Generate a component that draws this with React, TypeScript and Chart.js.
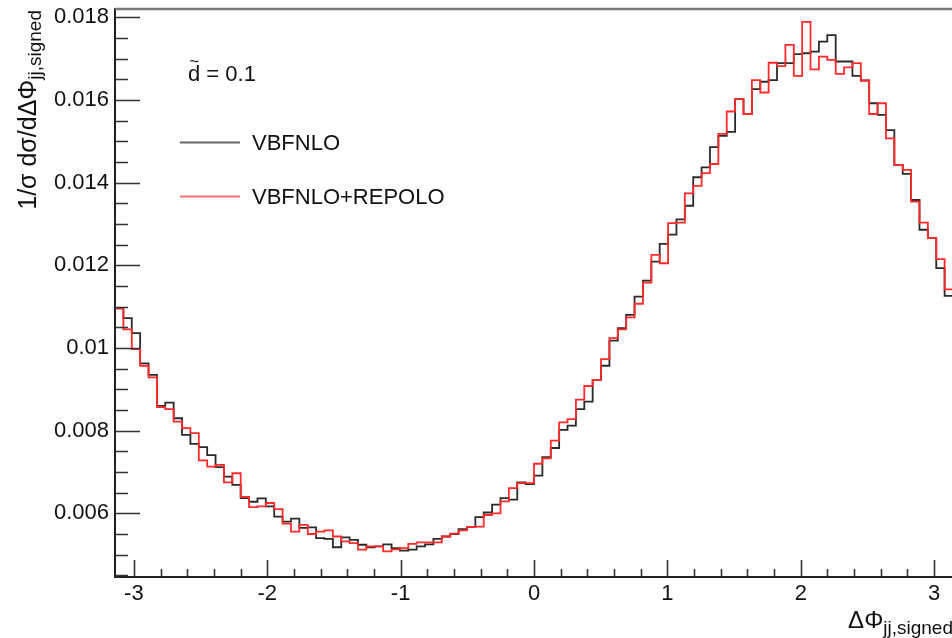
import React, { useEffect, useRef } from "react";
import { Chart, registerables } from "chart.js";

Chart.register(...registerables);

// ---- data (100 bins over [-pi, pi]) ----
const X_MIN = -Math.PI;
const X_MAX = Math.PI;
const Y_MIN = 0.00446;
const Y_MAX = 0.0182;

const vbfnlo = [
  0.01096, 0.01072, 0.01036, 0.00963, 0.00935, 0.0086, 0.00868, 0.0083, 0.0079, 0.00768,
  0.0076, 0.00741, 0.00712, 0.00689, 0.00669, 0.00637, 0.00628, 0.00636, 0.00617, 0.00592,
  0.0058, 0.00587, 0.00565, 0.00566, 0.0054, 0.00538, 0.00518, 0.00542, 0.00536, 0.00524,
  0.00518, 0.0052, 0.00525, 0.00516, 0.0051, 0.00512, 0.0052, 0.00525, 0.00538, 0.00544,
  0.0055, 0.00562, 0.00567, 0.00591, 0.00602, 0.00621, 0.00637, 0.00633, 0.00675, 0.00671,
  0.00691, 0.00736, 0.00758, 0.00802, 0.00812, 0.00852, 0.0087, 0.00923, 0.00957, 0.01018,
  0.01048, 0.0108, 0.01124, 0.01163, 0.01209, 0.01252, 0.01274, 0.01311, 0.01344, 0.01413,
  0.01437, 0.01486, 0.01513, 0.01523, 0.01602, 0.01566, 0.01626, 0.01644, 0.01648, 0.01689,
  0.01689, 0.01711, 0.01713, 0.01717, 0.01741, 0.01757, 0.01693, 0.01693, 0.01658, 0.01647,
  0.01592, 0.01564, 0.01527, 0.01443, 0.01421, 0.01358, 0.01286, 0.01266, 0.01193, 0.01126,
];

const repolo = [
  0.01096, 0.01045, 0.00997, 0.00957, 0.00929, 0.00857, 0.00852, 0.00822, 0.00806, 0.00794,
  0.00728, 0.00713, 0.00717, 0.00675, 0.00697, 0.0064, 0.00615, 0.00617, 0.00625, 0.0061,
  0.00575, 0.00556, 0.00572, 0.0055, 0.00556, 0.00559, 0.00544, 0.00532, 0.00528, 0.00512,
  0.0052, 0.0052, 0.00508, 0.00513, 0.00516, 0.00526, 0.0053, 0.0053, 0.0053, 0.00544,
  0.00551, 0.00559, 0.00567, 0.00568, 0.00596, 0.006, 0.00629, 0.00661, 0.00673, 0.00673,
  0.0072, 0.00733, 0.00776, 0.0082, 0.00828, 0.00875, 0.00908, 0.00923, 0.00973, 0.01024,
  0.01045, 0.01074, 0.01107, 0.01158, 0.01225, 0.01205, 0.01302, 0.01303, 0.01374, 0.01392,
  0.01423, 0.01445, 0.01518, 0.01572, 0.01602, 0.01566, 0.01648, 0.01618, 0.0169, 0.01682,
  0.01733, 0.01658, 0.01789, 0.01674, 0.01705, 0.01697, 0.01663, 0.01679, 0.01689, 0.01647,
  0.01566, 0.01592, 0.01507, 0.01443, 0.01431, 0.01354, 0.01303, 0.01266, 0.01215, 0.01142,
];

const seriesLabels = ["VBFNLO", "VBFNLO+REPOLO"];
const seriesColors = ["#2a2a2a", "#ff2a2a"];
const legendColors = ["#666666", "#ff7070"];

const xTicks = [-3, -2, -1, 0, 1, 2, 3];
const xTickLabels = ["-3", "-2", "-1", "0", "1", "2", "3"];
const yTicks = [0.006, 0.008, 0.01, 0.012, 0.014, 0.016, 0.018];
const yTickLabels = ["0.006", "0.008", "0.01", "0.012", "0.014", "0.016", "0.018"];
const X_MINOR_STEP = 0.2;
const Y_MINOR_STEP = 0.0005;

const annotationText = "d = 0.1";
const yTitleMain = "1/σ dσ/dΔΦ";
const yTitleSub = "jj,signed";
const xTitleMain = "ΔΦ";
const xTitleSub = "jj,signed";

const FONT = "'Liberation Sans', Arial, Helvetica, sans-serif";

function toSteps(values: number[]) {
  const w = (X_MAX - X_MIN) / values.length;
  const pts = values.map((v, i) => ({ x: X_MIN + i * w, y: v }));
  pts.push({ x: X_MAX, y: values[values.length - 1] });
  return pts;
}

const rootDecor = {
  id: "rootDecor",
  afterDraw(chart: any) {
    const ctx: CanvasRenderingContext2D = chart.ctx;
    const area = chart.chartArea;
    const xs = chart.scales.x;
    const ys = chart.scales.y;
    ctx.save();

    // top frame line
    ctx.strokeStyle = "#7a7a7a";
    ctx.lineWidth = 2.5;
    ctx.beginPath();
    ctx.moveTo(area.left, area.top);
    ctx.lineTo(area.right + 10, area.top);
    ctx.stroke();

    // inward tick marks
    ctx.strokeStyle = "#333";
    ctx.lineWidth = 1.6;
    ctx.beginPath();
    const yStart = Math.ceil(Y_MIN / Y_MINOR_STEP - 1e-6);
    for (let k = yStart; k * Y_MINOR_STEP <= Y_MAX + 1e-9; k++) {
      const v = k * Y_MINOR_STEP;
      const isMajor = yTicks.some((t) => Math.abs(t - v) < 1e-7);
      const py = Math.round(ys.getPixelForValue(v)) + 0.5;
      ctx.moveTo(area.left, py);
      ctx.lineTo(area.left + (isMajor ? 25 : 13), py);
    }
    const xStart = Math.ceil(X_MIN / X_MINOR_STEP - 1e-6);
    for (let k = xStart; k * X_MINOR_STEP <= X_MAX + 1e-9; k++) {
      const v = k * X_MINOR_STEP;
      const isMajor = xTicks.some((t) => Math.abs(t - v) < 1e-7);
      const px = Math.round(xs.getPixelForValue(v)) + 0.5;
      ctx.moveTo(px, area.bottom);
      ctx.lineTo(px, area.bottom - (isMajor ? 17 : 8));
    }
    ctx.stroke();

    ctx.fillStyle = "#111";
    ctx.textAlign = "left";
    ctx.textBaseline = "alphabetic";

    // annotation d~ = 0.1
    ctx.font = `22px ${FONT}`;
    ctx.fillText(annotationText, 188, 81);
    const dW = ctx.measureText("d").width;
    ctx.font = `17px ${FONT}`;
    ctx.textAlign = "center";
    ctx.fillText("~", 188 + dW / 2, 67);
    ctx.textAlign = "left";

    // legend
    const legendY = [142.5, 196.5];
    const order = [1, 0]; // dataset indices: VBFNLO, VBFNLO+REPOLO
    order.forEach((di, i) => {
      const ds = chart.data.datasets[di];
      ctx.strokeStyle = legendColors[i];
      ctx.lineWidth = 2;
      ctx.beginPath();
      ctx.moveTo(180, legendY[i]);
      ctx.lineTo(240, legendY[i]);
      ctx.stroke();
      ctx.fillStyle = "#111";
      ctx.font = `22px ${FONT}`;
      ctx.textBaseline = "middle";
      ctx.fillText(ds.label, 252, legendY[i] + 1);
    });
    ctx.textBaseline = "alphabetic";

    // y title (rotated)
    ctx.font = `25px ${FONT}`;
    const ymW = ctx.measureText(yTitleMain).width;
    ctx.font = `19px ${FONT}`;
    const ysW = ctx.measureText(yTitleSub).width;
    ctx.save();
    ctx.translate(36, 10 + ymW + ysW);
    ctx.rotate(-Math.PI / 2);
    ctx.font = `25px ${FONT}`;
    ctx.fillText(yTitleMain, 0, 0);
    ctx.font = `19px ${FONT}`;
    ctx.fillText(yTitleSub, ymW, 5);
    ctx.restore();

    // x title
    ctx.font = `24px ${FONT}`;
    const xmW = ctx.measureText(xTitleMain).width;
    ctx.font = `19px ${FONT}`;
    const xsW = ctx.measureText(xTitleSub).width;
    const x0 = area.right - xmW - xsW;
    ctx.font = `24px ${FONT}`;
    ctx.fillText(xTitleMain, x0, 628);
    ctx.font = `19px ${FONT}`;
    ctx.fillText(xTitleSub, x0 + xmW, 634);

    ctx.restore();
  },
};

export default function App() {
  const canvasRef = useRef<HTMLCanvasElement | null>(null);

  useEffect(() => {
    const canvas = canvasRef.current;
    if (!canvas) return;
    const chart = new Chart(canvas, {
      type: "line",
      data: {
        datasets: [
          {
            label: seriesLabels[1],
            data: toSteps(repolo),
            borderColor: seriesColors[1],
            borderWidth: 1.8,
            pointRadius: 0,
            stepped: "before",
            fill: false,
            order: 0,
          },
          {
            label: seriesLabels[0],
            data: toSteps(vbfnlo),
            borderColor: seriesColors[0],
            borderWidth: 1.8,
            pointRadius: 0,
            stepped: "before",
            fill: false,
            order: 1,
          },
        ],
      },
      options: {
        animation: false,
        responsive: false,
        maintainAspectRatio: false,
        devicePixelRatio: 1,
        parsing: false,
        layout: { padding: { top: 9, right: 7, left: 0, bottom: 0 } },
        plugins: {
          legend: { display: false },
          tooltip: { enabled: false },
          title: { display: false },
        },
        scales: {
          x: {
            type: "linear",
            min: X_MIN,
            max: X_MAX,
            afterBuildTicks: (s: any) => {
              s.ticks = xTicks.map((v) => ({ value: v }));
            },
            afterFit: (s: any) => {
              s.height = 61;
              s.paddingLeft = 0;
              s.paddingRight = 0;
            },
            ticks: {
              callback: (_v: any, i: number) => xTickLabels[i],
              font: { family: FONT, size: 22 },
              color: "#111",
              padding: 4,
              maxRotation: 0,
              autoSkip: false,
            },
            grid: { display: false, drawTicks: false },
            border: { display: true, color: "#222", width: 2 },
          },
          y: {
            type: "linear",
            min: Y_MIN,
            max: Y_MAX,
            afterBuildTicks: (s: any) => {
              s.ticks = yTicks.map((v) => ({ value: v }));
            },
            afterFit: (s: any) => {
              s.width = 115;
              s.paddingTop = 0;
              s.paddingBottom = 0;
            },
            ticks: {
              callback: (_v: any, i: number) => yTickLabels[i],
              font: { family: FONT, size: 22 },
              color: "#111",
              padding: 6,
              autoSkip: false,
            },
            grid: { display: false, drawTicks: false },
            border: { display: true, color: "#222", width: 2 },
          },
        },
      },
      plugins: [rootDecor],
    } as any);
    return () => chart.destroy();
  }, []);

  return (
    <div
      style={{
        position: "fixed",
        left: 0,
        top: 0,
        width: 952,
        height: 638,
        overflow: "hidden",
        background: "#fff",
      }}
    >
      <canvas ref={canvasRef} width={960} height={638} style={{ display: "block" }} />
    </div>
  );
}
